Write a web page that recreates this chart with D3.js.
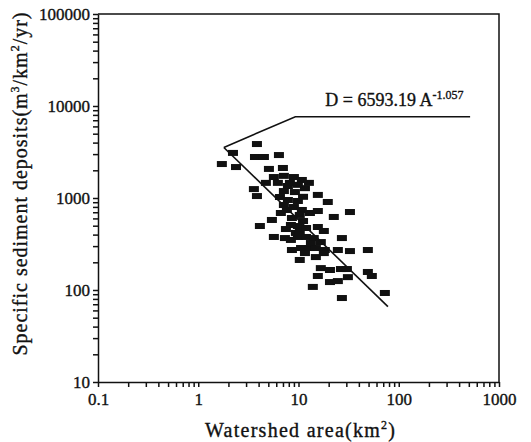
<!DOCTYPE html>
<meta charset="utf-8">
<style>
	body { margin: 0; background: #fff; }
	text { font-family: "Liberation Serif", "DejaVu Serif", serif; fill: #111; stroke: #111; stroke-width: 0.35px; }
	.axis path, .axis line { stroke: #111; stroke-width: 1.5px; }
	.axis text { font-size: 17px; }
	.frame { fill: none; stroke: #111; stroke-width: 1.5px; }
	.fit { fill: none; stroke: #111; stroke-width: 1.6px; }
	.dot { fill: #111; }
</style>
<svg width="531" height="442"></svg>
<script src="https://d3js.org/d3.v7.min.js"></script>
<script>

// watershed area (km2) and specific sediment deposits (m3/km2/yr)
var area = [1.72, 2.22, 2.38, 3.85, 3.68, 4.52, 6.38, 5.07, 6.99, 5.68,
	7.15, 9.00, 10.8, 12.7, 3.59, 3.85, 4.73, 7.84, 9.21, 11.1,
	15.6, 19.6, 7.15, 7.84, 9.86, 11.6, 7.15, 9.00, 6.67, 10.8,
	13.0, 15.6, 22.5, 32.6, 5.43, 4.12, 7.49, 9.86, 11.1, 9.42,
	15.6, 17.9, 5.68, 9.86, 11.9, 14.2, 16.7, 10.6, 13.0, 18.3,
	24.7, 32.6, 49.2, 10.3, 14.9, 17.9, 8.60, 27.1, 16.7, 20.6,
	26.5, 30.4, 15.6, 20.6, 24.7, 31.1, 49.2, 53.9, 13.9, 27.1,
	72.7, 7.66, 6.23, 10.3, 8.40, 8.21, 9.86, 6.53, 8.60, 10.3,
	8.40, 11.9, 7.32, 13.3, 14.9, 11.6];
var deposit = [2340, 3090, 2170, 3860, 2790, 2790, 2930, 2070, 2120, 1690,
	1740, 1690, 1570, 1460, 1250, 1050, 1460, 1350, 1160, 1030,
	1080, 905, 1190, 951, 928, 1280, 839, 798, 687, 741,
	687, 722, 622, 704, 577, 496, 460, 496, 562, 417,
	484, 438, 377, 377, 377, 367, 332, 286, 286, 272,
	272, 265, 272, 212, 228, 252, 272, 367, 173, 165,
	169, 169, 142, 122, 125, 138, 157, 142, 108, 81.8,
	92.8, 741, 1460, 654, 350, 1460, 1390, 1025, 606, 427,
	509, 472, 367, 324, 286, 252];

var xTicks = [0.1, 1, 10, 100, 1000];
var xTickLabels = ["0.1", "1", "10", "100", "1000"];
var yTicks = [10, 100, 1000, 10000, 100000];
var yTickLabels = ["10", "100", "1000", "10000", "100000"];

// regression D = 6593.19 A^-1.057
var coefA = 6593.19, expB = -1.057;
var fitRange = [1.8, 78];
var leaderPts = [[9.3, 7650], [515, 7650]];
var eqAnchor = [18.5, 10000];

var svg = d3.select("svg"),
	margin = {top: 14, right: 32, bottom: 60, left: 98},
	width = 531 - margin.left - margin.right,
	height = 442 - margin.top - margin.bottom;

var x = d3.scaleLog().domain([0.1, 1000]).range([margin.left, margin.left + width]),
	y = d3.scaleLog().domain([10, 100000]).range([margin.top + height, margin.top]);

function withMinors(majors) {
	var out = [];
	majors.forEach(function(d, i) {
		out.push(d);
		if (i < majors.length - 1)
			for (var k = 2; k < 10; k++) out.push(d * k);
	});
	return out;
}

function majorLabel(ticks, labels) {
	return function(d) {
		var i = ticks.findIndex(function(t) { return Math.abs(t - d) / t < 1e-6; });
		return i < 0 ? "" : labels[i];
	};
}

svg.append("g")
	.attr("class", "axis axis--x")
	.attr("transform", "translate(0," + (margin.top + height) + ")")
	.call(d3.axisBottom(x).tickValues(withMinors(xTicks)).tickSize(5).tickSizeOuter(0).tickPadding(6)
		.tickFormat(majorLabel(xTicks, xTickLabels)));

svg.append("g")
	.attr("class", "axis axis--y")
	.attr("transform", "translate(" + margin.left + ",0)")
	.call(d3.axisLeft(y).tickValues(withMinors(yTicks)).tickSize(5).tickSizeOuter(0).tickPadding(3)
		.tickFormat(majorLabel(yTicks, yTickLabels)));

svg.selectAll(".axis text").attr("fill", "#111");

svg.append("path")
	.attr("class", "frame")
	.attr("d", "M" + x(0.1) + "," + y(100000) + "H" + x(1000) + "V" + y(10));

// points
svg.selectAll(".dot")
	.data(area.map(function(a, i) { return [a, deposit[i]]; }))
	.enter().append("rect")
	.attr("class", "dot")
	.attr("x", function(d) { return x(d[0]) - 5; })
	.attr("y", function(d) { return y(d[1]) - 3; })
	.attr("width", 10)
	.attr("height", 6);

// fitted line
var fitLine = d3.line()
	.x(function(d) { return x(d[0]); })
	.y(function(d) { return y(d[1]); });

svg.append("path")
	.attr("class", "fit")
	.attr("d", fitLine(fitRange.map(function(a) { return [a, coefA * Math.pow(a, expB)]; })));

svg.append("path")
	.attr("class", "fit")
	.attr("d", fitLine([[fitRange[0], coefA * Math.pow(fitRange[0], expB)]].concat(leaderPts)));

var eq = svg.append("text")
	.attr("x", x(eqAnchor[0]))
	.attr("y", y(eqAnchor[1]))
	.style("font-size", "18px");
eq.append("tspan").text("D = 6593.19 A");
eq.append("tspan").attr("dy", -7).style("font-size", "12px").text("-1.057");

// axis titles
var xt = svg.append("text")
	.attr("x", 300)
	.attr("y", 437)
	.attr("text-anchor", "middle")
	.attr("textLength", 190)
	.attr("lengthAdjust", "spacing")
	.style("font-size", "20px");
xt.append("tspan").text("Watershed area(km");
xt.append("tspan").attr("dy", -8).style("font-size", "12px").text("2");
xt.append("tspan").attr("dy", 8).text(")");

var yt = svg.append("text")
	.attr("transform", "translate(27,184) rotate(-90)")
	.attr("text-anchor", "middle")
	.attr("textLength", 343)
	.attr("lengthAdjust", "spacing")
	.style("font-size", "20px");
yt.append("tspan").text("Specific sediment deposits(m");
yt.append("tspan").attr("dy", -8).style("font-size", "12px").text("3");
yt.append("tspan").attr("dy", 8).text("/km");
yt.append("tspan").attr("dy", -8).style("font-size", "12px").text("2");
yt.append("tspan").attr("dy", 8).text("/yr)");

</script>
